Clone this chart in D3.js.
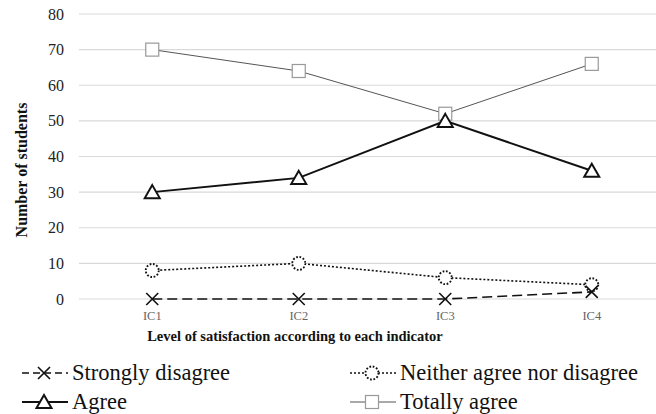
<!DOCTYPE html>
<html><head><meta charset="utf-8">
<script src="https://cdn.jsdelivr.net/npm/d3@7"></script>
<style>body{margin:0;background:#fff}svg{display:block}</style>
</head><body>
<svg id="c" width="656" height="414"></svg>
<script>
const categories = ["IC1","IC2","IC3","IC4"];
const stronglyDisagree = [0,0,0,2];
const neither = [8,10,6,4];
const agree = [30,34,50,36];
const totallyAgree = [70,64,52,66];
const yTicks = [0,10,20,30,40,50,60,70,80];
const seriesNames = ["Strongly disagree","Neither agree nor disagree","Agree","Totally agree"];

const FONT = '"Liberation Serif"';
const series = [
  {name:seriesNames[0], values:stronglyDisagree, stroke:"#111", width:1.6, dash:"10,5", marker:"x"},
  {name:seriesNames[1], values:neither, stroke:"#111", width:1.6, dash:"2,2", marker:"circle"},
  {name:seriesNames[2], values:agree, stroke:"#111", width:2, dash:null, marker:"triangle"},
  {name:seriesNames[3], values:totallyAgree, stroke:"#555", width:1, dash:null, marker:"square"}
];

const svg = d3.select("#c");
const x = d3.scaleBand().domain(categories).range([79,665]);
const y = d3.scaleLinear().domain([0,80]).range([299,14]);
const cx = d => x(d) + x.bandwidth()/2;

svg.append("g").selectAll("line").data(yTicks).join("line")
  .attr("x1",79).attr("x2",656).attr("y1",d=>y(d)).attr("y2",d=>y(d))
  .attr("stroke","#d9d9d9").attr("stroke-width",1.2);

svg.append("g").selectAll("text").data(yTicks).join("text")
  .attr("x",64).attr("y",d=>y(d)).attr("dy","0.35em").attr("text-anchor","end")
  .style("font-family",FONT).style("font-size","16px").attr("fill","#222").text(d=>d);

svg.append("g").selectAll("text").data(categories).join("text")
  .attr("x",d=>cx(d)).attr("y",320).attr("text-anchor","middle")
  .style("font-family",FONT).style("font-size","12.5px").attr("fill","#666").text(d=>d);

svg.append("text").attr("x",295).attr("y",341).attr("text-anchor","middle")
  .style("font-family",FONT).style("font-size","14.5px").style("font-weight","bold").attr("fill","#111")
  .text("Level of satisfaction according to each indicator");
svg.append("text").attr("transform","translate(27,170) rotate(-90)").attr("text-anchor","middle")
  .style("font-family",FONT).style("font-size","16px").style("font-weight","bold").attr("fill","#111")
  .text("Number of students");

function drawMarker(g, type, px, py){
  if(type==="x"){
    g.append("path").attr("d",`M${px-6},${py-6}L${px+6},${py+6}M${px-6},${py+6}L${px+6},${py-6}`)
      .attr("stroke","#111").attr("stroke-width",1.6).attr("fill","none");
  } else if(type==="circle"){
    g.append("circle").attr("cx",px).attr("cy",py).attr("r",6.5)
      .attr("fill","#fff").attr("stroke","#111").attr("stroke-width",1.9).attr("stroke-dasharray","1.7,1.7");
  } else if(type==="triangle"){
    g.append("path").attr("d",`M${px},${py-7}L${px+7.5},${py+6}L${px-7.5},${py+6}Z`)
      .attr("fill","#fff").attr("stroke","#111").attr("stroke-width",2);
  } else if(type==="square"){
    g.append("rect").attr("x",px-6.5).attr("y",py-6.5).attr("width",13).attr("height",13)
      .attr("fill","#fff").attr("stroke","#999").attr("stroke-width",1.2);
  }
}

const line = d3.line().x((d,i)=>cx(categories[i])).y(d=>y(d));
const order = [3,2,1,0];
order.forEach(k=>{
  const s = series[k];
  svg.append("path").attr("d",line(s.values)).attr("fill","none")
    .attr("stroke",s.stroke).attr("stroke-width",s.width)
    .attr("stroke-dasharray",s.dash);
});
order.forEach(k=>{
  const s = series[k];
  const g = svg.append("g");
  s.values.forEach((v,i)=>drawMarker(g,s.marker,cx(categories[i]),y(v)));
});

const legPos = [[22,373],[350,373],[22,402],[350,402]];
series.forEach((s,i)=>{
  const [lx,ly] = legPos[i];
  const g = svg.append("g");
  g.append("line").attr("x1",lx).attr("x2",lx+46).attr("y1",ly).attr("y2",ly)
    .attr("stroke",s.stroke).attr("stroke-width",s.width).attr("stroke-dasharray",s.dash==="10,5"?"7,4":s.dash);
  drawMarker(g,s.marker,lx+22,ly);
  g.append("text").attr("x",lx+50).attr("y",ly).attr("dy","0.33em")
    .style("font-family",FONT).style("font-size","22.5px").attr("fill","#111").text(s.name);
});
</script>
</body></html>
